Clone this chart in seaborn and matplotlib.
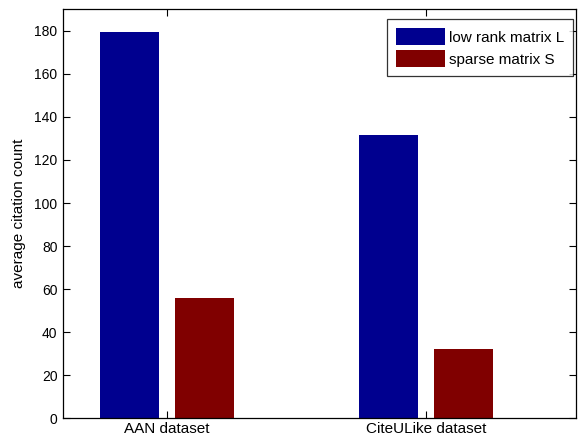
import matplotlib
matplotlib.use("Agg")
import matplotlib.pyplot as plt
import seaborn as sns
import pandas as pd

datasets = ["AAN dataset", "CiteULike dataset"]
series = ["low rank matrix L", "sparse matrix S"]
low_rank = [179.6, 131.5]
sparse = [56.0, 32.2]
colors = ["#00008F", "#800000"]

df = pd.DataFrame({
    "dataset": datasets * 2,
    "series": [series[0]] * 2 + [series[1]] * 2,
    "value": low_rank + sparse,
})

sns.set_style("white")
plt.rcParams["font.family"] = ["Liberation Sans", "DejaVu Sans"]
plt.rcParams["text.color"] = "black"
plt.rcParams["axes.labelcolor"] = "black"
plt.rcParams["xtick.color"] = "black"
plt.rcParams["ytick.color"] = "black"

fig = plt.figure(figsize=(5.78, 4.41), dpi=100)
ax = fig.add_axes([0.109, 0.0515, 0.8875, 0.9275])

sns.barplot(data=df, x="dataset", y="value", hue="series", palette=colors,
            saturation=1, width=0.58, gap=0.214, ax=ax, linewidth=0,
            errorbar=None)

ax.set_xlim(-0.4015, 1.579)
ax.set_ylim(0, 190)
ax.set_yticks(range(0, 181, 20))
ax.set_xlabel("")
ax.set_ylabel("average citation count", fontsize=11, labelpad=6)
ax.tick_params(direction="in", length=5, width=0.8, labelsize=10,
               top=True, right=True, bottom=True, left=True, pad=4)
ax.tick_params(axis="x", labelsize=11, pad=3)
for s in ax.spines.values():
    s.set_visible(True)
    s.set_color("black")
    s.set_linewidth(0.9)

leg = ax.legend(loc="upper right", bbox_to_anchor=(573 / 578, (441 - 19) / 441),
                bbox_transform=fig.transFigure, fontsize=11, frameon=True,
                fancybox=False, edgecolor="black", handlelength=3.2,
                handleheight=1.35, borderpad=0.6, labelspacing=0.3,
                handletextpad=0.25, borderaxespad=0)
leg.get_frame().set_linewidth(0.9)
leg.set_title(None)

fig.savefig("out.png", dpi=100)
